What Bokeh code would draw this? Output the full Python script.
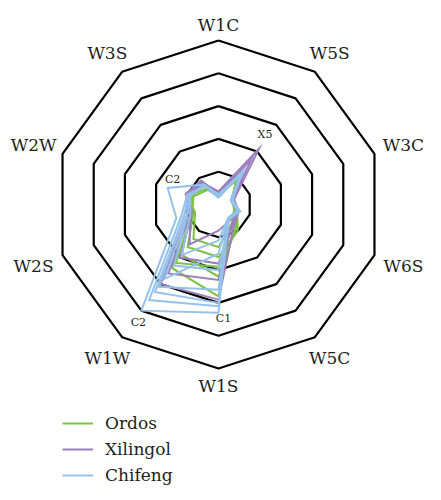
import numpy as np
from bokeh.plotting import figure
from bokeh.models import ColumnDataSource, Legend, LegendItem, Range1d
from bokeh.core.properties import value
from bokeh.embed import file_html
from bokeh.resources import INLINE

# ---------------- data ----------------
axis_labels = ["W1C", "W5S", "W3C", "W6S", "W5C", "W1S", "W1W", "W2S", "W2W", "W3S"]
ring_levels = [1, 2, 3, 4, 5]

# values per axis, in the order of axis_labels
ordos = [
    [0.30, 1.00, 0.45, 0.60, 0.80, 2.80, 2.40, 1.00, 0.90, 0.75],
    [0.30, 1.10, 0.40, 0.55, 0.90, 2.20, 1.90, 0.90, 0.85, 0.80],
    [0.35, 1.00, 0.40, 0.60, 1.00, 1.60, 1.60, 0.80, 0.90, 0.60],
    [0.30, 0.90, 0.45, 0.50, 0.70, 1.30, 1.30, 0.75, 1.05, 0.85],
    [0.25, 1.00, 0.40, 0.60, 0.90, 1.90, 2.20, 0.85, 0.80, 0.55],
]
xilingol = [
    [0.40, 2.10, 0.50, 0.65, 0.80, 2.90, 3.00, 1.00, 1.00, 0.80],
    [0.35, 1.70, 0.45, 0.60, 0.70, 2.30, 2.60, 0.90, 1.00, 0.85],
    [0.30, 1.20, 0.40, 0.60, 0.60, 0.80, 1.50, 0.90, 1.05, 0.90],
    [0.35, 1.30, 0.45, 0.65, 0.75, 1.80, 2.00, 0.85, 0.95, 0.80],
]
chifeng = [
    [0.30, 1.20, 0.40, 0.65, 0.50, 3.30, 4.00, 1.35, 1.63, 0.75],
    [0.25, 1.20, 0.40, 0.65, 0.50, 3.10, 3.60, 1.20, 1.00, 0.70],
    [0.25, 1.25, 0.45, 0.70, 0.55, 3.00, 3.30, 1.10, 0.95, 0.70],
    [0.30, 1.15, 0.40, 0.65, 0.50, 2.60, 3.10, 1.10, 0.95, 0.70],
    [0.25, 1.30, 0.40, 0.65, 0.50, 1.50, 2.80, 1.00, 0.90, 0.75],
    [0.20, 1.20, 0.40, 0.60, 0.50, 1.10, 1.90, 0.90, 0.90, 0.70],
    [0.30, 1.10, 0.45, 0.65, 0.55, 2.00, 2.30, 1.00, 0.90, 0.70],
]
series_names = ["Ordos", "Xilingol", "Chifeng"]
series_values = [ordos, xilingol, chifeng]
series_colors = ["#7cc242", "#9d7fc0", "#95c2ea"]

# annotated samples: (text, series index, polygon index, axis label)
annotations = [
    ("X5", 1, 0, "W5S"),
    ("C2", 2, 0, "W2W"),
    ("C2", 2, 0, "W1W"),
    ("C1", 2, 1, "W1S"),
]
annotation_offsets = {"W5S": (6, 14), "W2W": (5, 8), "W1W": (-3, -12), "W1S": (5, -12)}

FONT = "DejaVu Serif"

# ---------------- geometry ----------------
n = len(axis_labels)
theta = np.deg2rad(90 - 36 * np.arange(n))
PX = 32.8  # pixels per unit
W, H = 433, 492
cx, cy = 218, 204

p = figure(width=W, height=H, output_backend="svg", toolbar_location=None,
           x_range=Range1d(-cx / PX, (W - cx) / PX),
           y_range=Range1d(-(H - cy) / PX, cy / PX),
           min_border=0)
p.axis.visible = False
p.grid.visible = False
p.outline_line_color = None
p.background_fill_color = "white"
p.border_fill_color = "white"


def polar(vals):
    vals = np.asarray(vals, dtype=float)
    x = vals * np.cos(theta)
    y = vals * np.sin(theta)
    return list(np.append(x, x[0])), list(np.append(y, y[0]))


# rings
rx, ry = [], []
for r in ring_levels:
    x, y = polar([r] * n)
    rx.append(x)
    ry.append(y)
p.multi_line(rx, ry, line_color="black", line_width=2.2)

# axis labels
lab_r = 5 + 0.5 + 0.45 * np.abs(np.cos(theta))
lab_src = ColumnDataSource(dict(x=lab_r * np.cos(theta), y=lab_r * np.sin(theta), t=axis_labels))
p.text("x", "y", text="t", source=lab_src, text_font=value(FONT),
       text_font_size="17px", text_align="center", text_baseline="middle",
       y_offset=1, text_color="#231f20")

# series
legend_items = []
for name, vals, col in zip(series_names, series_values, series_colors):
    xs, ys = [], []
    for v in vals:
        x, y = polar(v)
        xs.append(x)
        ys.append(y)
    r = p.multi_line(xs, ys, line_color=col, line_width=2, line_join="miter")
    legend_items.append(LegendItem(label=name, renderers=[r]))

# sample annotations
ax_, ay_, at_, xo_, yo_ = [], [], [], [], []
for txt, si, pi, axname in annotations:
    k = axis_labels.index(axname)
    v = series_values[si][pi][k]
    ax_.append(v * np.cos(theta[k]))
    ay_.append(v * np.sin(theta[k]))
    at_.append(txt)
    xo_.append(annotation_offsets[axname][0])
    yo_.append(-annotation_offsets[axname][1])
ann_src = ColumnDataSource(dict(x=ax_, y=ay_, t=at_, xo=xo_, yo=yo_))
p.text("x", "y", text="t", x_offset="xo", y_offset="yo", source=ann_src,
       text_font=value(FONT), text_font_size="11px",
       text_align="center", text_baseline="middle", text_color="#231f20")

legend = Legend(items=legend_items, location=(62, 7), orientation="vertical",
                label_text_font=FONT, label_text_font_size="17px",
                label_text_color="#231f20", glyph_width=31, glyph_height=20,
                label_height=20, spacing=6, padding=0, margin=0,
                label_standoff=12, border_line_alpha=0, background_fill_alpha=0)
p.add_layout(legend)

open("out.html", "w").write(file_html(p, INLINE))
